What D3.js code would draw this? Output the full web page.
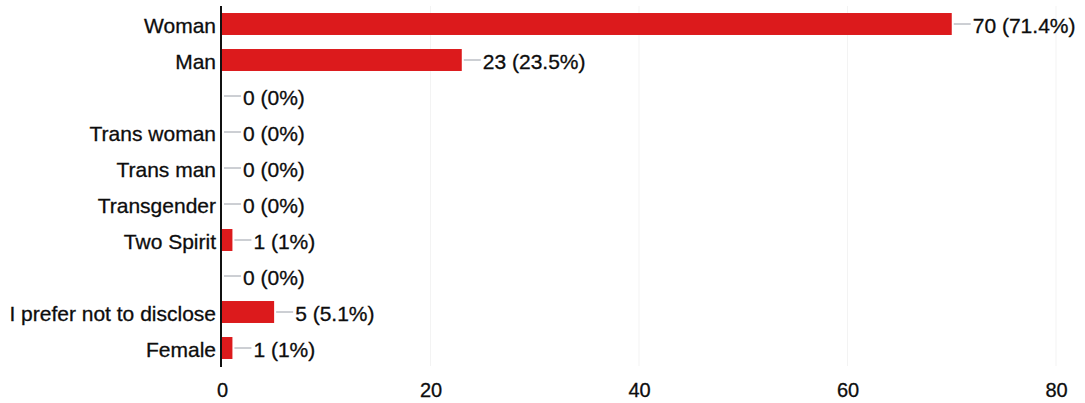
<!DOCTYPE html>
<html>
<head>
<meta charset="utf-8">
<script src="https://cdn.jsdelivr.net/npm/d3@7"></script>
<style>
  html, body { margin: 0; padding: 0; background: #fff; }
  svg { display: block; }
  text { font-family: "Liberation Sans", Arial, sans-serif; fill: #0d0d0d; stroke: #0d0d0d; stroke-width: 0.3px; }
</style>
</head>
<body>
<svg id="chart" width="1085" height="403"></svg>
<script>
const categories = ["Woman", "Man", "", "Trans woman", "Trans man", "Transgender", "Two Spirit", " ", "I prefer not to disclose", "Female"];
const counts = [70, 23, 0, 0, 0, 0, 1, 0, 5, 1];
const percents = ["71.4%", "23.5%", "0%", "0%", "0%", "0%", "1%", "0%", "5.1%", "1%"];
const xTicks = [0, 20, 40, 60, 80];

const svg = d3.select("#chart");
const x = d3.scaleLinear().domain([0, 80]).range([222, 1056]);
const y = d3.scaleBand().domain(categories).range([6, 366]).paddingInner(0.39).paddingOuter(0.195);

// gridlines
svg.append("g").selectAll("line").data(xTicks.filter(d => d > 0)).join("line")
  .attr("x1", d => x(d)).attr("x2", d => x(d))
  .attr("y1", 6).attr("y2", 366)
  .attr("stroke", "#f3f3f3").attr("stroke-width", 1);

// bars
svg.append("g").selectAll("rect").data(categories).join("rect")
  .attr("x", x(0))
  .attr("y", d => y(d))
  .attr("width", (d, i) => x(counts[i]) - x(0))
  .attr("height", y.bandwidth())
  .attr("fill", "#dc1a1c");

// connectors and value labels
const lab = svg.append("g");
categories.forEach((c, i) => {
  const end = x(counts[i]);
  const cy = y(c) + y.bandwidth() / 2;
  lab.append("line")
    .attr("x1", end + 2).attr("x2", end + 19)
    .attr("y1", cy).attr("y2", cy)
    .attr("stroke", "#9a9fa8").attr("stroke-width", 1);
  lab.append("text")
    .attr("x", end + 21).attr("y", cy).attr("dy", "0.42em")
    .attr("font-size", 21)
    .text(`${counts[i]} (${percents[i]})`);
});

// category labels
const yAxis = d3.axisLeft(y).tickSize(0).tickPadding(5);
const gy = svg.append("g").attr("transform", `translate(${x(0) - 1},0)`).call(yAxis);
gy.select(".domain").remove();
gy.selectAll("text").attr("font-size", 21).attr("fill", "#0d0d0d")
  .style("font-family", "'Liberation Sans', Arial, sans-serif").attr("dy", "0.42em");

// axis line
svg.append("line").attr("x1", x(0) - 1).attr("x2", x(0) - 1)
  .attr("y1", 6).attr("y2", 367).attr("stroke", "#111").attr("stroke-width", 2);

// x axis ticks
const xAxis = d3.axisBottom(x).tickValues(xTicks).tickSize(0).tickPadding(0);
const gx = svg.append("g").attr("transform", "translate(0,382)").call(xAxis);
gx.select(".domain").remove();
gx.selectAll("text").attr("font-size", 20).attr("fill", "#0d0d0d")
  .style("font-family", "'Liberation Sans', Arial, sans-serif").attr("dy", "0.75em");
</script>
</body>
</html>
